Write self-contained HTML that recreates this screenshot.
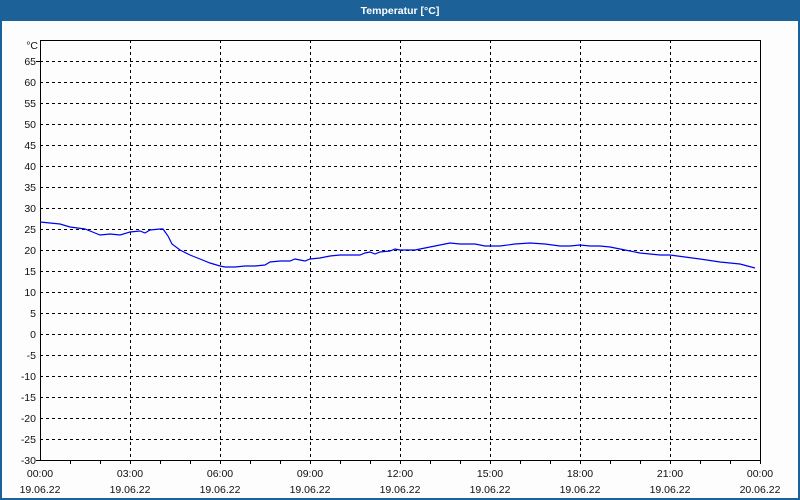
<!DOCTYPE html>
<html><head><meta charset="utf-8"><style>
html,body{margin:0;padding:0;width:800px;height:500px;overflow:hidden;background:#fcfdfc}
svg{display:block}
text{font-family:"Liberation Sans",sans-serif;font-size:10.5px}
</style></head><body>
<svg width="800" height="500" viewBox="0 0 800 500" xmlns="http://www.w3.org/2000/svg">
<rect x="0" y="0" width="800" height="500" fill="#1c6198"/>
<rect x="2" y="21" width="796" height="477" fill="#fcfdfc"/>
<text x="400" y="14" fill="#fff" font-weight="bold" text-anchor="middle">Temperatur [°C]</text>
<g stroke="#000" stroke-width="1" stroke-dasharray="3,3" fill="none">
<path d="M40 61.5H760M40 82.5H760M40 103.5H760M40 124.5H760M40 145.5H760M40 166.5H760M40 187.5H760M40 208.5H760M40 229.5H760M40 250.5H760M40 271.5H760M40 292.5H760M40 313.5H760M40 334.5H760M40 355.5H760M40 376.5H760M40 397.5H760M40 418.5H760M40 439.5H760"/>
<path d="M130.5 40V460M220.5 40V460M310.5 40V460M400.5 40V460M490.5 40V460M580.5 40V460M670.5 40V460"/>
</g>
<rect x="40.5" y="40.5" width="720" height="420" fill="none" stroke="#000"/>
<g stroke="#000"><path d="M70.5 460v4M100.5 460v4M130.5 460v4M160.5 460v4M190.5 460v4M220.5 460v4M250.5 460v4M280.5 460v4M310.5 460v4M340.5 460v4M370.5 460v4M400.5 460v4M430.5 460v4M460.5 460v4M490.5 460v4M520.5 460v4M550.5 460v4M580.5 460v4M610.5 460v4M640.5 460v4M670.5 460v4M700.5 460v4M730.5 460v4M760.5 460v4M36 61.5h4M36 460.5h4"/></g>
<polyline fill="none" stroke="#0000ee" stroke-width="1.2" points="40,222 50,223 60,224 70,227 85,229 95,233 100,235 110,234 120,235 130,232 140,231 145,233 150,230 160,229 163,229 168,236 172,244 180,250 190,255 200,259 210,263 220,266 225,267 235,267 245,266 255,266 265,265 270,262 280,261 290,261 295,259 300,260 305,261 310,259 320,258 330,256 340,255 360,255 365,253 370,252 375,254 380,252 390,251 395,249 400,250 415,250 425,248 440,245 450,243 460,244 475,244 485,246 500,246 515,244 530,243 545,244 560,246 570,246 580,245 590,246 600,246 610,247 615,248 625,250 640,253 650,254 660,255 670,255 685,257 700,259 720,262 740,264 755,268"/>
<g fill="#111" text-anchor="end">
<text x="38" y="49">°C</text>
<text x="36" y="65">65</text><text x="36" y="86">60</text><text x="36" y="107">55</text><text x="36" y="128">50</text><text x="36" y="149">45</text><text x="36" y="170">40</text><text x="36" y="191">35</text><text x="36" y="212">30</text><text x="36" y="233">25</text><text x="36" y="254">20</text><text x="36" y="275">15</text><text x="36" y="296">10</text><text x="36" y="317">5</text><text x="36" y="338">0</text><text x="36" y="359">-5</text><text x="36" y="380">-10</text><text x="36" y="401">-15</text><text x="36" y="422">-20</text><text x="36" y="443">-25</text><text x="36" y="464">-30</text>
</g>
<g fill="#111" text-anchor="middle">
<text x="40" y="477">00:00</text><text x="130" y="477">03:00</text><text x="220" y="477">06:00</text><text x="310" y="477">09:00</text><text x="400" y="477">12:00</text><text x="490" y="477">15:00</text><text x="580" y="477">18:00</text><text x="670" y="477">21:00</text><text x="760" y="477">00:00</text>
<text x="40" y="493">19.06.22</text><text x="130" y="493">19.06.22</text><text x="220" y="493">19.06.22</text><text x="310" y="493">19.06.22</text><text x="400" y="493">19.06.22</text><text x="490" y="493">19.06.22</text><text x="580" y="493">19.06.22</text><text x="670" y="493">19.06.22</text><text x="760" y="493">20.06.22</text>
</g>
</svg>
</body></html>
